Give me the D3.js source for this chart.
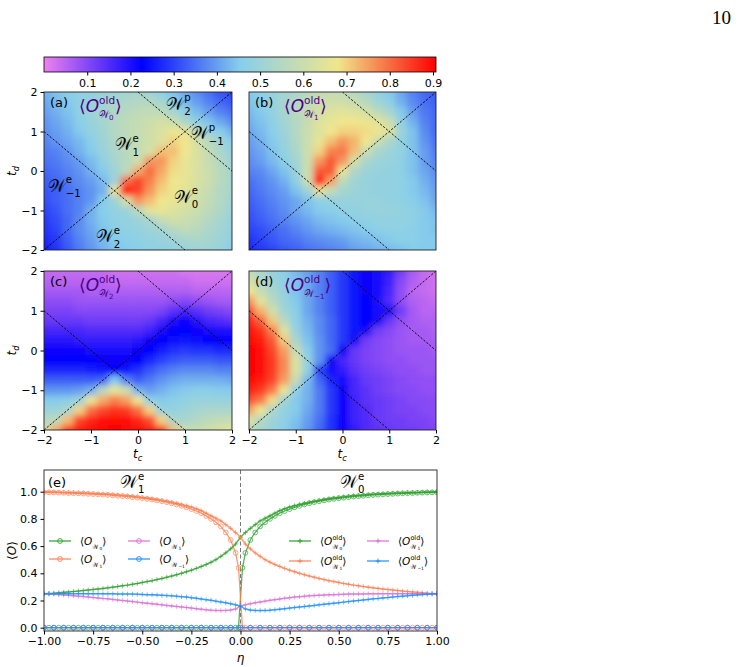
<!DOCTYPE html>
<html>
<head>
<meta charset="utf-8">
<script src="https://cdn.jsdelivr.net/npm/d3@7"></script>
<style>
  body { margin: 0; background: #fff; }
  svg { display: block; }
  text { font-family: "DejaVu Sans", sans-serif; }
</style>
</head>
<body>
<div id="container"></div>
<script>
// ---- heatmap grids (rows: td = 2 ... -2, cols: tc = -2 ... 2) ----
const tcGrid = [-2, -1.75, -1.5, -1.25, -1, -0.75, -0.5, -0.25, 0, 0.25, 0.5, 0.75, 1, 1.25, 1.5, 1.75, 2];
const tdGrid = [2, 1.75, 1.5, 1.25, 1, 0.75, 0.5, 0.25, 0, -0.25, -0.5, -0.75, -1, -1.25, -1.5, -1.75, -2];

const gridW0 = [
  [0.42,0.44,0.46,0.47,0.48,0.49,0.50,0.51,0.52,0.50,0.47,0.44,0.41,0.38,0.35,0.32,0.30],
  [0.41,0.43,0.45,0.47,0.49,0.51,0.53,0.54,0.55,0.55,0.52,0.47,0.43,0.40,0.37,0.34,0.32],
  [0.40,0.42,0.44,0.47,0.50,0.52,0.54,0.56,0.57,0.58,0.57,0.52,0.47,0.43,0.40,0.37,0.35],
  [0.39,0.41,0.43,0.46,0.49,0.52,0.55,0.57,0.59,0.60,0.62,0.60,0.53,0.48,0.44,0.41,0.38],
  [0.38,0.40,0.42,0.45,0.48,0.51,0.55,0.57,0.59,0.61,0.63,0.67,0.66,0.56,0.50,0.46,0.42],
  [0.37,0.39,0.41,0.43,0.46,0.50,0.54,0.57,0.59,0.61,0.64,0.70,0.68,0.62,0.56,0.50,0.46],
  [0.36,0.37,0.39,0.42,0.45,0.49,0.53,0.56,0.59,0.62,0.72,0.72,0.68,0.63,0.58,0.53,0.48],
  [0.35,0.36,0.38,0.40,0.43,0.47,0.52,0.56,0.60,0.76,0.76,0.70,0.66,0.63,0.59,0.55,0.50],
  [0.34,0.35,0.37,0.39,0.42,0.45,0.50,0.57,0.74,0.80,0.74,0.69,0.66,0.63,0.60,0.56,0.52],
  [0.33,0.34,0.36,0.38,0.40,0.43,0.50,0.80,0.84,0.78,0.72,0.68,0.66,0.63,0.60,0.56,0.52],
  [0.32,0.33,0.35,0.37,0.39,0.42,0.66,0.90,0.84,0.76,0.70,0.67,0.65,0.62,0.59,0.55,0.52],
  [0.31,0.33,0.35,0.37,0.39,0.45,0.50,0.62,0.76,0.72,0.68,0.66,0.64,0.61,0.58,0.55,0.51],
  [0.30,0.32,0.35,0.37,0.42,0.46,0.48,0.50,0.56,0.65,0.66,0.64,0.62,0.60,0.57,0.54,0.50],
  [0.29,0.31,0.34,0.38,0.42,0.45,0.47,0.48,0.50,0.52,0.58,0.61,0.60,0.58,0.55,0.52,0.49],
  [0.28,0.30,0.34,0.38,0.41,0.44,0.46,0.47,0.48,0.50,0.51,0.55,0.57,0.56,0.53,0.51,0.48],
  [0.27,0.29,0.33,0.37,0.40,0.43,0.45,0.46,0.47,0.48,0.49,0.50,0.52,0.53,0.52,0.50,0.47],
  [0.26,0.28,0.32,0.36,0.39,0.42,0.44,0.45,0.46,0.47,0.47,0.48,0.49,0.50,0.50,0.49,0.46]
];

const gridW1 = [
  [0.45,0.47,0.49,0.51,0.53,0.56,0.58,0.59,0.58,0.55,0.52,0.48,0.45,0.41,0.37,0.34,0.32],
  [0.44,0.46,0.49,0.52,0.55,0.58,0.60,0.61,0.61,0.59,0.56,0.51,0.47,0.42,0.38,0.35,0.33],
  [0.43,0.45,0.48,0.52,0.56,0.59,0.62,0.64,0.65,0.64,0.62,0.57,0.52,0.45,0.40,0.36,0.34],
  [0.42,0.44,0.47,0.51,0.55,0.59,0.64,0.66,0.68,0.68,0.67,0.65,0.60,0.48,0.42,0.37,0.34],
  [0.41,0.43,0.46,0.50,0.55,0.60,0.64,0.68,0.70,0.70,0.69,0.67,0.64,0.50,0.44,0.38,0.34],
  [0.40,0.42,0.45,0.49,0.54,0.60,0.66,0.72,0.76,0.73,0.68,0.60,0.53,0.48,0.44,0.39,0.35],
  [0.39,0.41,0.44,0.48,0.53,0.60,0.70,0.78,0.79,0.72,0.60,0.53,0.50,0.48,0.44,0.40,0.36],
  [0.38,0.40,0.43,0.46,0.51,0.60,0.76,0.82,0.76,0.62,0.53,0.50,0.49,0.47,0.44,0.40,0.37],
  [0.37,0.38,0.41,0.44,0.49,0.60,0.82,0.82,0.66,0.54,0.50,0.49,0.48,0.47,0.44,0.41,0.38],
  [0.35,0.37,0.39,0.42,0.47,0.60,0.90,0.75,0.57,0.51,0.49,0.48,0.48,0.47,0.45,0.42,0.39],
  [0.34,0.36,0.38,0.40,0.44,0.50,0.66,0.58,0.52,0.50,0.49,0.48,0.48,0.47,0.45,0.43,0.40],
  [0.33,0.35,0.37,0.39,0.41,0.44,0.47,0.48,0.49,0.49,0.49,0.49,0.48,0.47,0.46,0.44,0.41],
  [0.32,0.34,0.36,0.38,0.41,0.43,0.45,0.46,0.47,0.48,0.49,0.49,0.49,0.48,0.47,0.45,0.43],
  [0.31,0.33,0.35,0.37,0.39,0.41,0.43,0.44,0.45,0.46,0.47,0.48,0.48,0.48,0.47,0.45,0.44],
  [0.30,0.31,0.33,0.35,0.37,0.39,0.41,0.42,0.43,0.44,0.45,0.46,0.47,0.47,0.46,0.45,0.44],
  [0.28,0.30,0.32,0.34,0.35,0.37,0.38,0.39,0.40,0.42,0.43,0.44,0.45,0.46,0.46,0.45,0.45],
  [0.27,0.29,0.30,0.32,0.33,0.35,0.36,0.37,0.38,0.40,0.41,0.42,0.43,0.44,0.45,0.45,0.45]
];

const gridW2 = [
  [0.04,0.04,0.04,0.04,0.04,0.04,0.03,0.03,0.03,0.03,0.03,0.03,0.02,0.02,0.02,0.02,0.02],
  [0.05,0.05,0.05,0.05,0.05,0.05,0.04,0.04,0.04,0.04,0.04,0.04,0.04,0.03,0.03,0.03,0.03],
  [0.07,0.07,0.07,0.07,0.06,0.06,0.06,0.06,0.06,0.06,0.06,0.06,0.06,0.05,0.05,0.05,0.05],
  [0.09,0.09,0.09,0.08,0.08,0.08,0.08,0.08,0.08,0.08,0.08,0.09,0.10,0.09,0.08,0.07,0.07],
  [0.11,0.11,0.11,0.10,0.10,0.10,0.10,0.10,0.10,0.10,0.11,0.14,0.16,0.14,0.12,0.11,0.10],
  [0.13,0.13,0.13,0.13,0.12,0.12,0.12,0.12,0.12,0.13,0.16,0.20,0.22,0.19,0.16,0.15,0.14],
  [0.16,0.16,0.16,0.16,0.15,0.15,0.15,0.15,0.15,0.17,0.21,0.23,0.23,0.22,0.21,0.20,0.20],
  [0.19,0.19,0.19,0.18,0.18,0.18,0.18,0.18,0.19,0.22,0.23,0.24,0.25,0.24,0.23,0.23,0.23],
  [0.22,0.22,0.22,0.22,0.21,0.21,0.21,0.21,0.22,0.23,0.26,0.28,0.29,0.28,0.28,0.27,0.27],
  [0.23,0.23,0.23,0.23,0.23,0.22,0.22,0.22,0.23,0.27,0.30,0.32,0.33,0.33,0.33,0.32,0.32],
  [0.27,0.27,0.27,0.27,0.26,0.25,0.23,0.25,0.28,0.32,0.35,0.37,0.38,0.38,0.38,0.37,0.37],
  [0.33,0.33,0.33,0.33,0.33,0.34,0.45,0.37,0.33,0.36,0.39,0.41,0.42,0.42,0.42,0.42,0.41],
  [0.39,0.39,0.39,0.40,0.42,0.56,0.66,0.60,0.42,0.40,0.42,0.44,0.45,0.46,0.46,0.45,0.45],
  [0.45,0.45,0.46,0.50,0.66,0.74,0.78,0.75,0.67,0.47,0.45,0.46,0.48,0.49,0.49,0.49,0.49],
  [0.50,0.50,0.53,0.70,0.80,0.84,0.86,0.85,0.80,0.70,0.49,0.48,0.50,0.52,0.53,0.53,0.53],
  [0.55,0.57,0.72,0.84,0.87,0.89,0.90,0.89,0.87,0.83,0.70,0.53,0.52,0.55,0.57,0.58,0.59],
  [0.62,0.74,0.85,0.88,0.89,0.90,0.91,0.90,0.89,0.88,0.85,0.72,0.60,0.59,0.61,0.63,0.65]
];

const gridWm1 = [
  [0.58,0.53,0.49,0.46,0.43,0.40,0.37,0.33,0.29,0.25,0.22,0.21,0.18,0.12,0.07,0.04,0.03],
  [0.62,0.55,0.50,0.47,0.44,0.41,0.37,0.33,0.29,0.25,0.22,0.21,0.17,0.10,0.06,0.04,0.03],
  [0.68,0.59,0.53,0.48,0.44,0.41,0.37,0.33,0.29,0.25,0.22,0.21,0.16,0.09,0.05,0.04,0.03],
  [0.76,0.65,0.56,0.49,0.45,0.41,0.37,0.33,0.29,0.25,0.23,0.20,0.15,0.09,0.06,0.05,0.04],
  [0.83,0.73,0.61,0.51,0.46,0.41,0.37,0.33,0.29,0.25,0.23,0.21,0.20,0.12,0.07,0.05,0.05],
  [0.87,0.81,0.71,0.56,0.47,0.42,0.38,0.34,0.29,0.25,0.23,0.21,0.13,0.09,0.07,0.06,0.06],
  [0.89,0.86,0.78,0.64,0.49,0.43,0.38,0.34,0.29,0.25,0.21,0.12,0.10,0.08,0.07,0.07,0.06],
  [0.90,0.88,0.82,0.71,0.53,0.44,0.39,0.34,0.29,0.21,0.12,0.10,0.09,0.08,0.07,0.07,0.07],
  [0.91,0.89,0.84,0.75,0.59,0.46,0.39,0.35,0.22,0.13,0.11,0.10,0.09,0.08,0.08,0.08,0.07],
  [0.91,0.89,0.85,0.77,0.63,0.48,0.39,0.22,0.16,0.13,0.11,0.10,0.09,0.09,0.08,0.08,0.08],
  [0.91,0.89,0.85,0.77,0.63,0.48,0.30,0.21,0.18,0.14,0.12,0.11,0.10,0.09,0.09,0.08,0.08],
  [0.90,0.88,0.84,0.75,0.59,0.43,0.34,0.27,0.21,0.16,0.13,0.12,0.11,0.10,0.09,0.09,0.09],
  [0.88,0.85,0.79,0.67,0.47,0.42,0.36,0.29,0.22,0.16,0.14,0.12,0.11,0.10,0.10,0.09,0.09],
  [0.83,0.79,0.69,0.51,0.45,0.42,0.36,0.29,0.22,0.17,0.14,0.13,0.12,0.11,0.10,0.10,0.10],
  [0.75,0.67,0.53,0.48,0.45,0.41,0.36,0.29,0.22,0.17,0.15,0.13,0.12,0.11,0.11,0.10,0.10],
  [0.63,0.55,0.50,0.47,0.44,0.40,0.35,0.28,0.22,0.17,0.15,0.13,0.12,0.12,0.11,0.11,0.10],
  [0.57,0.52,0.49,0.46,0.43,0.39,0.34,0.28,0.22,0.18,0.15,0.14,0.13,0.12,0.12,0.11,0.11]
];

const cbarTicks = [0.1, 0.2, 0.3, 0.4, 0.5, 0.6, 0.7, 0.8, 0.9];
const tTicks = [-2, -1, 0, 1, 2];

// ---- panel (e) series ----
const etaTicks = [-1, -0.75, -0.5, -0.25, 0, 0.25, 0.5, 0.75, 1];
const oTicks = [0, 0.2, 0.4, 0.6, 0.8, 1.0];
const etaOld = d3.range(81).map(i => Math.round((-1 + i * 0.025) * 1000) / 1000);
const etaNew = [...etaOld.slice(0, 40), -0.01, 0.01, ...etaOld.slice(41)];
const etaFlat = d3.range(41).map(i => Math.round((-1 + i * 0.05) * 100) / 100);

const oldW0 = [.250,.252,.254,.257,.260,.263,.266,.269,.273,.277,.281,.285,.289,.293,.298,.303,.308,.313,.319,.325,
  .332,.339,.346,.354,.362,.371,.380,.390,.400,.411,.423,.436,.450,.465,.481,.500,.525,.550,.580,.615,
  .665,
  .700,.730,.758,.785,.805,.823,.843,.862,.875,.887,.897,.906,.914,.922,.929,.936,.942,.948,.953,.958,
  .962,.966,.970,.973,.976,.979,.981,.983,.985,.987,.989,.990,.991,.993,.994,.995,.996,.997,.998,.999];
const oldW1 = [.999,.998,.997,.996,.995,.994,.993,.991,.990,.989,.987,.985,.983,.981,.979,.976,.973,.970,.966,.962,
  .958,.953,.948,.942,.936,.929,.922,.914,.906,.897,.887,.875,.862,.843,.823,.805,.785,.758,.730,.700,
  .665,
  .615,.580,.550,.525,.500,.481,.465,.450,.436,.423,.411,.400,.390,.380,.371,.362,.354,.346,.339,.332,
  .325,.319,.313,.308,.303,.298,.293,.289,.285,.281,.277,.273,.269,.266,.263,.260,.257,.254,.252,.250];
const oldW2 = [.250,.248,.246,.244,.241,.238,.235,.232,.229,.226,.222,.219,.215,.212,.208,.204,.200,.196,.192,.188,
  .184,.180,.176,.172,.168,.164,.160,.156,.152,.148,.144,.140,.136,.132,.129,.127,.126,.127,.130,.137,
  .158,
  .168,.176,.183,.189,.195,.201,.206,.211,.216,.221,.225,.228,.231,.234,.236,.238,.240,.242,.243,.245,
  .246,.247,.247,.248,.248,.249,.249,.249,.250,.250,.250,.250,.250,.250,.250,.250,.250,.250,.250,.250];
const oldWm1 = [.250,.250,.250,.250,.250,.250,.250,.250,.250,.250,.250,.250,.249,.249,.249,.248,.248,.247,.247,.246,
  .245,.243,.242,.240,.238,.236,.234,.231,.228,.225,.221,.216,.211,.206,.201,.195,.189,.183,.176,.168,
  .158,
  .137,.130,.127,.126,.127,.129,.132,.136,.140,.144,.148,.152,.156,.160,.164,.168,.172,.176,.180,.184,
  .188,.192,.196,.200,.204,.208,.212,.215,.219,.222,.226,.229,.232,.235,.238,.241,.244,.246,.248,.250];

const newW0 = [0,0,0,0,0,0,0,0,0,0,0,0,0,0,0,0,0,0,0,0,0,0,0,0,0,0,0,0,0,0,0,0,0,0,0,0,0,0,0,0,
  0, .44,
  .550,.645,.700,.745,.775,.800,.822,.842,.858,.872,.885,.896,.906,.915,.923,.930,.936,.942,.947,.952,
  .956,.960,.964,.967,.970,.973,.976,.978,.980,.982,.984,.986,.988,.989,.990,.992,.993,.994,.995,.996];
const newW1 = [.996,.995,.994,.993,.992,.990,.989,.988,.986,.984,.982,.980,.978,.976,.973,.970,.967,.964,.960,.956,
  .952,.947,.942,.936,.930,.923,.915,.906,.896,.885,.872,.858,.842,.822,.800,.775,.745,.700,.645,.550,
  .44, 0,
  0,0,0,0,0,0,0,0,0,0,0,0,0,0,0,0,0,0,0,0,0,0,0,0,0,0,0,0,0,0,0,0,0,0,0,0,0,0,0,0];
const newW2 = [0,0,0,0,0,0,0,0,0,0,0,0,0,0,0,0,0,0,0,0,0,0,0,0,0,0,0,0,0,0,0,0,0,0,0,0,0,0,0,0,0];
const newWm1 = [0,0,0,0,0,0,0,0,0,0,0,0,0,0,0,0,0,0,0,0,0,0,0,0,0,0,0,0,0,0,0,0,0,0,0,0,0,0,0,0,0];

const GREEN = "#2ca02c", ORANGE = "#ff7f50", VIOLET = "#da70d6", BLUE = "#1e90ff";
const W = "\u{1D4B2}";

const svg = d3.select("#container").append("svg")
  .attr("width", 742).attr("height", 667)
  .style("background", "#fff");

const defs = svg.append("defs");
defs.append("filter").attr("id", "blur")
  .attr("x", "-10%").attr("y", "-10%").attr("width", "120%").attr("height", "120%")
  .append("feGaussianBlur").attr("stdDeviation", 3.4);

const vmax = 0.907;
const cmap = d3.scaleLinear()
  .domain([0, vmax * 0.25, vmax * 0.5, vmax * 0.75, vmax])
  .range(["violet", "blue", "skyblue", "khaki", "red"])
  .clamp(true);

// draws a small piece of math text, returns end x
function mathText(parent, x, y, size, color, pieces) {
  let cx = x;
  const put = (t, s, d, it, px) => {
    const el = parent.append("text")
      .attr("x", px).attr("y", y + d * size)
      .style("font-size", (s * size) + "px")
      .style("fill", color)
      .text(t);
    if (it) el.style("font-style", "italic");
    return el.node().getComputedTextLength();
  };
  pieces.forEach(p => {
    if (p.rows) {
      let w = 0;
      p.rows.forEach(row => {
        let rx = cx;
        row.forEach(r => { rx += put(r.t, r.s, r.d, r.it, rx); });
        w = Math.max(w, rx - cx);
      });
      cx += w;
    } else {
      cx += put(p.t, p.s || 1, p.d || 0, p.it, cx);
    }
  });
  return cx;
}

const obs = (idx, old) => {
  const subRow = [{ t: W, s: 0.6, d: 0.36 }, { t: idx, s: 0.42, d: 0.46 }];
  const rows = old ? [[{ t: "old", s: 0.62, d: -0.48 }], subRow] : [subRow];
  return [{ t: "\u27E8" }, { t: "O", it: true }, { rows }, { t: "\u27E9" }];
};
const region = (sup, sub) => [
  { t: W },
  { rows: [[{ t: sup, s: 0.6, d: -0.5 }], [{ t: sub, s: 0.6, d: 0.32 }]] }
];

// page number
svg.append("text").attr("x", 731).attr("y", 24).attr("text-anchor", "end")
  .style("font-family", "'Liberation Serif', serif").style("font-size", "19px").text("10");

// ---- colorbar ----
const cbX = d3.scaleLinear().domain([0, vmax]).range([44, 436]);
const grad = defs.append("linearGradient").attr("id", "cbar");
d3.range(0, 1.0001, 0.05).forEach(f => {
  grad.append("stop").attr("offset", f).attr("stop-color", cmap(f * vmax));
});
svg.append("rect").attr("x", 44).attr("y", 57).attr("width", 392).attr("height", 15)
  .attr("fill", "url(#cbar)").attr("stroke", "#000").attr("stroke-width", 0.8);
const cbAxis = svg.append("g").attr("transform", "translate(0,72)")
  .call(d3.axisBottom(cbX).tickValues(cbarTicks).tickFormat(d3.format(".1f")).tickSize(3.5).tickSizeOuter(0));
cbAxis.select(".domain").remove();
cbAxis.selectAll("text").style("font-size", "11px").attr("dy", "0.75em");

// ---- heatmap panels ----
const panels = [
  { id: "a", grid: gridW0, x0: 44, x1: 232, y0: 92, y1: 250, idx: "0", left: true, bottom: false },
  { id: "b", grid: gridW1, x0: 249, x1: 436, y0: 92, y1: 250, idx: "1", left: false, bottom: false },
  { id: "c", grid: gridW2, x0: 44, x1: 232, y0: 271, y1: 430, idx: "2", left: true, bottom: true },
  { id: "d", grid: gridWm1, x0: 249, x1: 436, y0: 271, y1: 430, idx: "\u22121", left: false, bottom: true }
];

const boundaries = [
  [[-2, -2], [2, 2]],
  [[-2, 1], [1, -2]],
  [[0, 2], [2, 0]]
];

function mathLabelRot(cx, cy, base, sub) {
  const g = svg.append("g").attr("transform", `translate(${cx},${cy}) rotate(-90)`);
  mathText(g, -5, 4, 12, "#000", [{ t: base, it: true }, { t: sub, s: 0.7, d: 0.25, it: true }]);
}

panels.forEach(p => {
  const x = d3.scaleLinear().domain([-2, 2]).range([p.x0, p.x1]);
  const y = d3.scaleLinear().domain([-2, 2]).range([p.y1, p.y0]);

  defs.append("clipPath").attr("id", `clip-${p.id}`)
    .append("rect").attr("x", p.x0).attr("y", p.y0)
    .attr("width", p.x1 - p.x0).attr("height", p.y1 - p.y0);

  const cells = [];
  p.grid.forEach((row, i) => row.forEach((v, j) => cells.push({ tc: tcGrid[j], td: tdGrid[i], v, i, j })));

  const half = 0.125;
  const cx0 = d => d.tc - (d.j === 0 ? 0.6 : half);
  const cx1 = d => d.tc + (d.j === tcGrid.length - 1 ? 0.6 : half);
  const cy0 = d => d.td + (d.i === 0 ? 0.6 : half);
  const cy1 = d => d.td - (d.i === tdGrid.length - 1 ? 0.6 : half);

  svg.append("g").attr("clip-path", `url(#clip-${p.id})`)
    .append("g").attr("filter", "url(#blur)")
    .selectAll("rect").data(cells).join("rect")
    .attr("x", d => x(cx0(d)))
    .attr("width", d => x(cx1(d)) - x(cx0(d)) + 0.6)
    .attr("y", d => y(cy0(d)))
    .attr("height", d => y(cy1(d)) - y(cy0(d)) + 0.6)
    .attr("fill", d => cmap(d.v));

  // phase boundaries
  svg.append("g").attr("clip-path", `url(#clip-${p.id})`)
    .selectAll("line").data(boundaries).join("line")
    .attr("x1", d => x(d[0][0])).attr("y1", d => y(d[0][1]))
    .attr("x2", d => x(d[1][0])).attr("y2", d => y(d[1][1]))
    .attr("stroke", "#000").attr("stroke-width", 0.9)
    .attr("stroke-dasharray", "2.2,1.6");

  svg.append("rect").attr("x", p.x0).attr("y", p.y0)
    .attr("width", p.x1 - p.x0).attr("height", p.y1 - p.y0)
    .attr("fill", "none").attr("stroke", "#222").attr("stroke-width", 0.9);

  if (p.left) {
    const ax = svg.append("g").attr("transform", `translate(${p.x0},0)`)
      .call(d3.axisLeft(y).tickValues(tTicks).tickFormat(d3.format("d")).tickSize(3.5).tickSizeOuter(0));
    ax.select(".domain").remove();
    ax.selectAll("text").style("font-size", "11px");
    mathLabelRot(12, (p.y0 + p.y1) / 2, "t", "d");
  }
  if (p.bottom) {
    const ax = svg.append("g").attr("transform", `translate(0,${p.y1})`)
      .call(d3.axisBottom(x).tickValues(tTicks).tickFormat(d3.format("d")).tickSize(3.5).tickSizeOuter(0));
    ax.select(".domain").remove();
    ax.selectAll("text").style("font-size", "11px");
    mathText(svg.append("g"), (p.x0 + p.x1) / 2 - 5, p.y1 + 28, 12, "#000",
      [{ t: "t", it: true }, { t: "c", s: 0.7, d: 0.25, it: true }]);
  }

  svg.append("text").attr("x", p.x0 + 6).attr("y", p.y0 + 15)
    .style("font-size", "13px").text(`(${p.id})`);
  mathText(svg.append("g"), p.x0 + 35, p.y0 + 20, 17, "#4b0082", obs(p.idx, true));

  if (p.id === "a") {
    const labels = [
      { tc: -0.5, td: 0.52, sup: "e", sub: "1" },
      { tc: -1.92, td: -0.52, sup: "e", sub: "\u22121" },
      { tc: 0.76, td: -0.8, sup: "e", sub: "0" },
      { tc: -0.9, td: -1.8, sup: "e", sub: "2" },
      { tc: 0.6, td: 1.55, sup: "p", sub: "2" },
      { tc: 1.12, td: 0.8, sup: "p", sub: "\u22121" }
    ];
    labels.forEach(l => mathText(svg.append("g"), x(l.tc), y(l.td), 17, "#000", region(l.sup, l.sub)));
  }
});

// ---- panel (e) ----
const ex = d3.scaleLinear().domain([-1, 1]).range([44, 437]);
const ey = d3.scaleLinear().domain([-0.0243, 1.1596]).range([631, 470]);

defs.append("clipPath").attr("id", "clip-e")
  .append("rect").attr("x", 44).attr("y", 470).attr("width", 393).attr("height", 161);

const plot = svg.append("g").attr("clip-path", "url(#clip-e)");

plot.append("line")
  .attr("x1", ex(0)).attr("x2", ex(0)).attr("y1", 470).attr("y2", 631)
  .attr("stroke", "#777").attr("stroke-width", 1).attr("stroke-dasharray", "4,2.5");

const plusPath = "M-2.4,0H2.4M0,-2.4V2.4";
const seriesList = [
  { eta: etaNew, vals: newW0, color: GREEN, marker: "o" },
  { eta: etaNew, vals: newW1, color: ORANGE, marker: "o" },
  { eta: etaFlat, vals: newW2, color: VIOLET, marker: "o" },
  { eta: etaFlat, vals: newWm1, color: BLUE, marker: "o" },
  { eta: etaOld, vals: oldW0, color: GREEN, marker: "+" },
  { eta: etaOld, vals: oldW1, color: ORANGE, marker: "+" },
  { eta: etaOld, vals: oldW2, color: VIOLET, marker: "+" },
  { eta: etaOld, vals: oldWm1, color: BLUE, marker: "+" }
];

const line = d3.line().x(d => ex(d[0])).y(d => ey(d[1]));

seriesList.forEach(s => {
  const pts = s.eta.map((e, i) => [e, s.vals[i]]);
  const g = plot.append("g");
  g.append("path").datum(pts)
    .attr("d", line).attr("fill", "none")
    .attr("stroke", s.color).attr("stroke-opacity", 0.8)
    .attr("stroke-width", s.marker === "o" ? 1.3 : 1.5);
  if (s.marker === "o") {
    g.selectAll("circle").data(pts).join("circle")
      .attr("cx", d => ex(d[0])).attr("cy", d => ey(d[1])).attr("r", 2.4)
      .attr("fill", "none").attr("stroke", s.color).attr("stroke-opacity", 0.75).attr("stroke-width", 0.9);
  } else {
    g.selectAll(".pm").data(pts).join("path").attr("class", "pm")
      .attr("transform", d => `translate(${ex(d[0])},${ey(d[1])})`)
      .attr("d", plusPath).attr("stroke", s.color).attr("stroke-opacity", 0.6).attr("stroke-width", 1);
  }
});

svg.append("rect").attr("x", 44).attr("y", 470).attr("width", 393).attr("height", 161)
  .attr("fill", "none").attr("stroke", "#222").attr("stroke-width", 0.9);

const exAxis = svg.append("g").attr("transform", "translate(0,631)")
  .call(d3.axisBottom(ex).tickValues(etaTicks).tickFormat(d3.format(".2f")).tickSize(3.5).tickSizeOuter(0));
exAxis.select(".domain").remove();
exAxis.selectAll("text").style("font-size", "11px");

const eyAxis = svg.append("g").attr("transform", "translate(44,0)")
  .call(d3.axisLeft(ey).tickValues(oTicks).tickFormat(d3.format(".1f")).tickSize(3.5).tickSizeOuter(0));
eyAxis.select(".domain").remove();
eyAxis.selectAll("text").style("font-size", "11px");

svg.append("text").attr("x", ex(0)).attr("y", 662).attr("text-anchor", "middle")
  .style("font-size", "12px").style("font-style", "italic").text("\u03B7");
{
  const g = svg.append("g").attr("transform", "translate(16,560) rotate(-90)");
  mathText(g, 0, 0, 12, "#000", [{ t: "\u27E8" }, { t: "O", it: true }, { t: "\u27E9" }]);
}

svg.append("text").attr("x", 48).attr("y", 487).style("font-size", "13px").text("(e)");
mathText(svg.append("g"), 120, 488, 17, "#000", region("e", "1"));
mathText(svg.append("g"), 340, 488, 17, "#000", region("e", "0"));

// legends
const legendItems = [
  { x: 49, y: 541, color: GREEN, marker: "o", idx: "0", old: false },
  { x: 49, y: 559, color: ORANGE, marker: "o", idx: "1", old: false },
  { x: 128, y: 541, color: VIOLET, marker: "o", idx: "1", old: false },
  { x: 128, y: 559, color: BLUE, marker: "o", idx: "\u22121", old: false },
  { x: 289, y: 541, color: GREEN, marker: "+", idx: "0", old: true },
  { x: 289, y: 561, color: ORANGE, marker: "+", idx: "1", old: true },
  { x: 367, y: 541, color: VIOLET, marker: "+", idx: "1", old: true },
  { x: 367, y: 561, color: BLUE, marker: "+", idx: "\u22121", old: true }
];
legendItems.forEach(l => {
  const g = svg.append("g");
  g.append("line").attr("x1", l.x).attr("x2", l.x + 22).attr("y1", l.y).attr("y2", l.y)
    .attr("stroke", l.color).attr("stroke-opacity", 0.8).attr("stroke-width", 1.5);
  if (l.marker === "o") {
    g.append("circle").attr("cx", l.x + 11).attr("cy", l.y).attr("r", 2.4)
      .attr("fill", "none").attr("stroke", l.color).attr("stroke-width", 0.9);
  } else {
    g.append("path").attr("transform", `translate(${l.x + 11},${l.y})`).attr("d", plusPath)
      .attr("stroke", l.color).attr("stroke-width", 1);
  }
  mathText(g, l.x + 31, l.y + 4, 10.5, "#000", obs(l.idx, l.old));
});
</script>
</body>
</html>
